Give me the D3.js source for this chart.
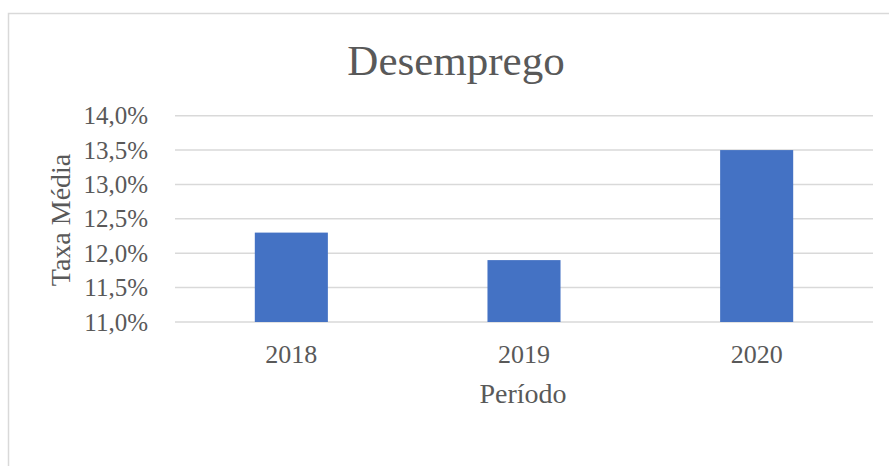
<!DOCTYPE html>
<html>
<head>
<meta charset="utf-8">
<script src="https://cdn.jsdelivr.net/npm/d3@7"></script>
<style>
  html, body { margin: 0; padding: 0; background: #fff; }
  svg { display: block; }
</style>
</head>
<body>
<div id="chart"></div>
<script>
const categories = ["2018", "2019", "2020"];
const values = [0.123, 0.119, 0.135];
const yTicks = [0.11, 0.115, 0.12, 0.125, 0.13, 0.135, 0.14];

(function() {
  const width = 889, height = 466;
  const textColor = "#595959";
  const gridColor = "#d9d9d9";
  const font = "'Liberation Serif', 'Times New Roman', serif";

  const svg = d3.select("#chart").append("svg")
    .attr("width", width)
    .attr("height", height);

  // chart border (runs off the right/bottom edge)
  svg.append("rect")
    .attr("x", 8.5)
    .attr("y", 13.5)
    .attr("width", width + 20)
    .attr("height", height + 20)
    .attr("fill", "#fff")
    .attr("stroke", gridColor)
    .attr("stroke-width", 1.5);

  const plot = { left: 175, right: 873, top: 115.7, bottom: 322 };

  const x = d3.scaleBand()
    .domain(categories)
    .range([plot.left, plot.right])
    .paddingInner(0.686)
    .paddingOuter(0.343);

  const y = d3.scaleLinear()
    .domain([0.11, 0.14])
    .range([plot.bottom, plot.top]);

  const fmt = v => d3.format(".1f")(v * 100).replace(".", ",") + "%";

  // gridlines
  svg.append("g")
    .selectAll("line")
    .data(yTicks)
    .join("line")
    .attr("x1", plot.left)
    .attr("x2", plot.right)
    .attr("y1", d => y(d))
    .attr("y2", d => y(d))
    .attr("stroke", gridColor)
    .attr("stroke-width", 1.5);

  // bars
  svg.append("g")
    .selectAll("rect")
    .data(values)
    .join("rect")
    .attr("x", (d, i) => x(categories[i]))
    .attr("width", x.bandwidth())
    .attr("y", d => y(d))
    .attr("height", d => y(0.11) - y(d))
    .attr("fill", "#4472c4");

  // y tick labels
  svg.append("g")
    .selectAll("text")
    .data(yTicks)
    .join("text")
    .attr("x", 148)
    .attr("y", d => y(d))
    .attr("dy", "0.34em")
    .attr("text-anchor", "end")
    .attr("font-family", font)
    .attr("font-size", "25px")
    .attr("fill", textColor)
    .text(fmt);

  // x tick labels
  svg.append("g")
    .selectAll("text")
    .data(categories)
    .join("text")
    .attr("x", d => x(d) + x.bandwidth() / 2)
    .attr("y", 363)
    .attr("text-anchor", "middle")
    .attr("font-family", font)
    .attr("font-size", "26px")
    .attr("fill", textColor)
    .text(d => d);

  // title
  svg.append("text")
    .attr("x", 456)
    .attr("y", 75)
    .attr("text-anchor", "middle")
    .attr("font-family", font)
    .attr("font-size", "43px")
    .attr("fill", textColor)
    .text("Desemprego");

  // axis titles
  svg.append("text")
    .attr("x", 523)
    .attr("y", 403)
    .attr("text-anchor", "middle")
    .attr("font-family", font)
    .attr("font-size", "28px")
    .attr("fill", textColor)
    .text("Período");

  svg.append("text")
    .attr("transform", "translate(70,220) rotate(-90)")
    .attr("text-anchor", "middle")
    .attr("font-family", font)
    .attr("font-size", "28px")
    .attr("fill", textColor)
    .text("Taxa Média");
})();
</script>
</body>
</html>
